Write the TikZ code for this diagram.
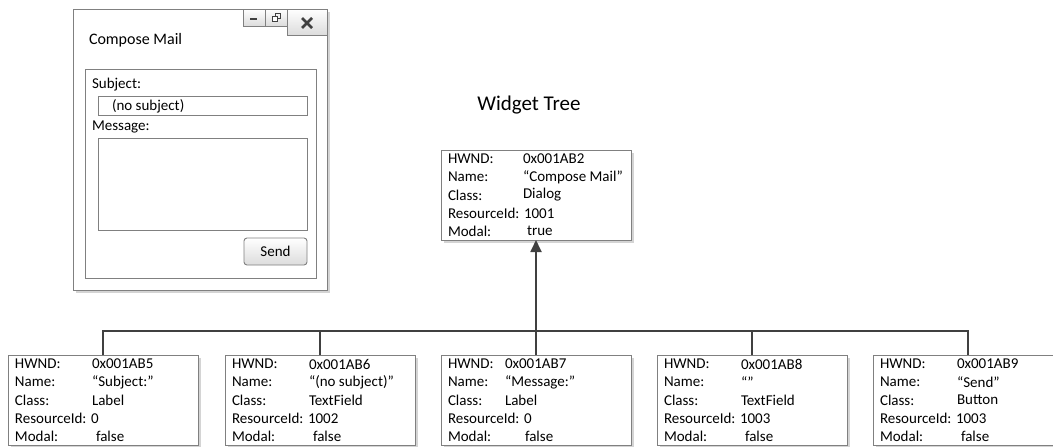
\documentclass[tikz,border=0pt]{standalone}
\usepackage{fontspec}
\setmainfont{Carlito}
\usetikzlibrary{arrows.meta}
\definecolor{linec}{HTML}{404040}
\definecolor{edgec}{HTML}{808080}
\definecolor{shadowc}{HTML}{D4D4D4}
\definecolor{btnbot}{HTML}{DCDCDC}
\tikzset{
  every node/.style={inner sep=0pt, outer sep=0pt},
  wbox/.style={draw=edgec, fill=white, line width=0.9pt, minimum width=190pt,
    minimum height=90pt, anchor=north west},
  frame/.style={draw=edgec, line width=0.9pt, anchor=north west},
  field/.style={font=\fontsize{15}{18}\selectfont, anchor=west},
  uitext/.style={font=\fontsize{15}{18}\selectfont, anchor=west},
  tbtn/.style={frame, top color=white, bottom color=btnbot},
  conn/.style={draw=linec, line width=1.8pt},
  glyph/.style={draw=linec, line width=2pt},
}
% widget record box: #1 name, #2 left, #3 top, #4 hwnd, #5 name, #6 class, #7 id, #8 modal
% \valx = value column, \modx = modal value column
\newcommand\widgetbox[8]{%
  \fill[shadowc] (#2+3,#3+3) rectangle (#2+193,#3+93);
  \node[wbox] (#1) at (#2,#3) {};
  \node[field] (#1-hl) at ([shift={(7,9)}]#1.north west) {HWND:};
  \node[field] (#1-hv) at ([shift={(\valx,9)}]#1.north west) {#4};
  \node[field] (#1-nl) at ([shift={(7,27)}]#1.north west) {Name:};
  \node[field] (#1-nv) at ([shift={(\valx,27)}]#1.north west) {#5};
  \node[field] (#1-cl) at ([shift={(7,45)}]#1.north west) {Class:};
  \node[field] (#1-cv) at ([shift={(\valx,45)}]#1.north west) {#6};
  \node[field] (#1-rl) at ([shift={(7,63)}]#1.north west) {ResourceId: #7};
  \node[field] (#1-ml) at ([shift={(7,81)}]#1.north west) {Modal:};
  \node[field] (#1-mv) at ([shift={(\modx,81)}]#1.north west) {#8};
}
\begin{document}
\begin{tikzpicture}[x=1pt, y=-1pt]
\clip (0,0) rectangle (1053,447);
\fill[white] (0,0) rectangle (1053,447);

% ---- dialog window ----
\fill[shadowc] (76,12) rectangle (330,293);
\node[frame, fill=white, minimum width=254pt, minimum height=281pt] (win) at (73,9) {};
\node[tbtn, minimum width=22pt, minimum height=17pt] (minb) at (243,9) {};
\node[tbtn, minimum width=22pt, minimum height=17pt] (resb) at (265,9) {};
\node[tbtn, minimum width=40pt, minimum height=26pt] (closeb) at (287,9) {};
\draw[glyph, line width=2.4pt] ([shift={(-4,1.5)}]minb.center) -- ([shift={(3,1.5)}]minb.center);
\draw[draw=linec, line width=0.8pt] ([shift={(-1,-4)}]resb.center) rectangle ([shift={(4,1)}]resb.center);
\draw[draw=linec, line width=0.8pt, fill=white] ([shift={(-4,-1)}]resb.center) rectangle ([shift={(1,4)}]resb.center);
\draw[glyph, line width=2.6pt] ([shift={(-5,-4)}]closeb.center) -- ([shift={(5,6)}]closeb.center);
\draw[glyph, line width=2.6pt] ([shift={(-5,6)}]closeb.center) -- ([shift={(5,-4)}]closeb.center);
\node[anchor=west, font=\fontsize{16}{19}\selectfont] (title) at (89,40) {Compose Mail};

\node[frame, minimum width=231pt, minimum height=209pt] (grp) at (85,69) {};
\node[uitext] (sublbl) at (92,85) {Subject:};
\node[frame, fill=white, minimum width=209pt, minimum height=19pt] (subfld) at (98,96) {};
\node[uitext] (subtxt) at (112,106) {(no subject)};
\node[uitext] (msglbl) at (92,127) {Message:};
\node[frame, fill=white, minimum width=209pt, minimum height=92pt] (msgfld) at (98,138) {};
\node[tbtn, rounded corners=3pt, minimum width=63pt, minimum height=27pt] (sendb) at (244,238) {};
\node[font=\fontsize{15}{18}\selectfont] (sendtxt) at (sendb.center) {Send};

% ---- widget tree ----
\node[font=\fontsize{21}{25}\selectfont] (wt) at (529,105) {Widget Tree};

\def\valx{82}\def\modx{86}
\widgetbox{root}{441}{150}{0x001AB2}{“Compose Mail”}{Dialog}{1001}{true}

\def\valx{84}\def\modx{88}
\widgetbox{w1}{8}{355}{0x001AB5}{“Subject:”}{Label}{0}{false}
\widgetbox{w2}{225}{355}{0x001AB6}{“(no subject)”}{TextField}{1002}{false}
\def\valx{64}\def\modx{84}
\widgetbox{w3}{441}{355}{0x001AB7}{“Message:”}{Label}{0}{false}
\def\valx{84}\def\modx{88}
\widgetbox{w4}{657}{355}{0x001AB8}{“”}{TextField}{1003}{false}
\widgetbox{w5}{873}{355}{0x001AB9}{“Send”}{Button}{1003}{false}

\coordinate (bus) at (0,331);
\draw[conn] (w1.north) -- (w1.north |- bus) -- (w5.north |- bus) -- (w5.north);
\draw[conn] (w2.north) -- (w2.north |- bus);
\draw[conn] (w3.north) -- (w3.north |- bus);
\draw[conn] (w4.north) -- (w4.north |- bus);
\draw[conn, -{Triangle[width=11pt,length=12pt]}] (w3.north |- bus) -- (root.south);
\end{tikzpicture}
\end{document}
